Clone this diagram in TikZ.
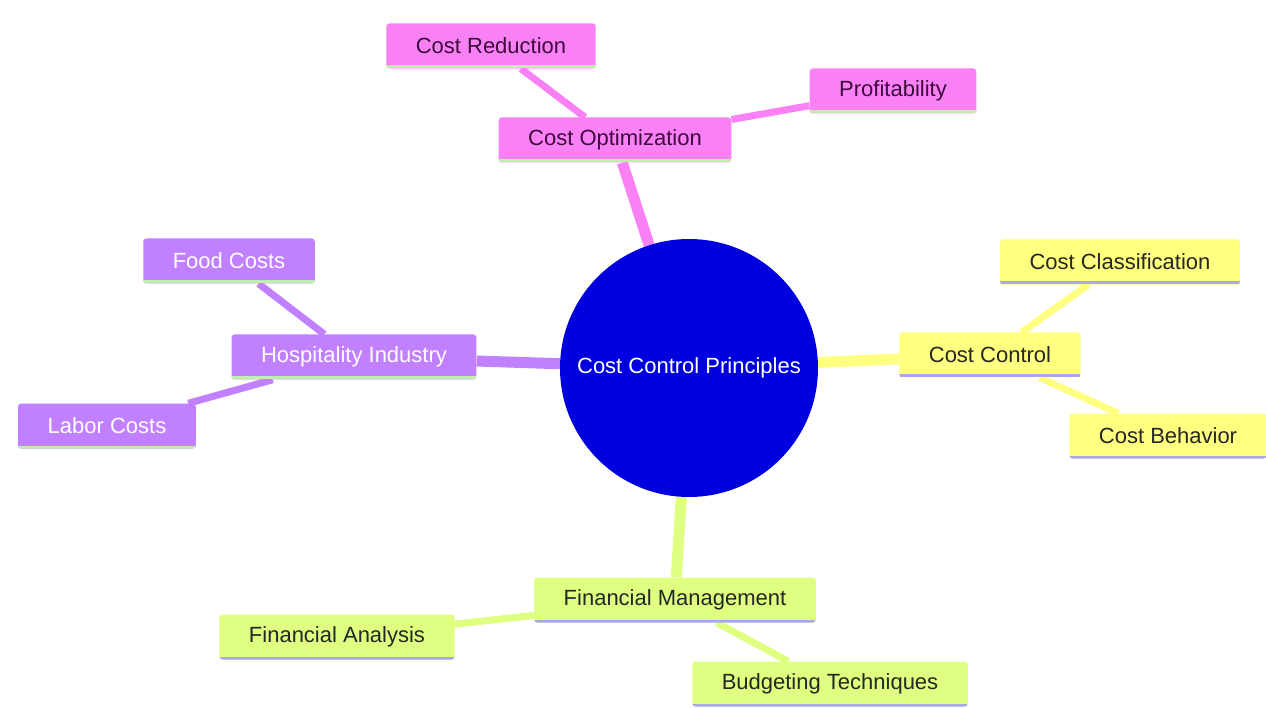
\documentclass[tikz,border=0pt]{standalone}
\usepackage{fontspec}
\setmainfont{Liberation Sans}
\usetikzlibrary{backgrounds}
\definecolor{rootblue}{RGB}{0,0,222}
\definecolor{optpink}{RGB}{250,128,245}
\definecolor{hospviolet}{RGB}{192,128,255}
\definecolor{ctrlyellow}{RGB}{255,255,128}
\definecolor{fingreen}{RGB}{222,255,128}
\definecolor{lightgreen}{RGB}{190,240,170}
\definecolor{lightviolet}{RGB}{170,168,232}
\definecolor{darkplum}{RGB}{60,10,60}
\tikzset{
  topic/.style={rectangle, rounded corners=3pt, minimum height=45pt, inner xsep=29.5pt,
                font=\fontsize{22}{26}\selectfont},
  underline/.style={path picture={\fill[#1, sharp corners]
                ([yshift=3pt]path picture bounding box.south west) rectangle
                (path picture bounding box.south east);}},
  pinkbox/.style={topic, fill=optpink, text=darkplum, underline=lightgreen},
  violetbox/.style={topic, fill=hospviolet, text=white, underline=lightgreen},
  yellowbox/.style={topic, fill=ctrlyellow, text=black!85, underline=lightviolet},
  greenbox/.style={topic, fill=fingreen, text=black!85, underline=lightviolet}
}
\begin{document}
\begin{tikzpicture}[x=1pt, y=-1pt]
\useasboundingbox (0,0) rectangle (1266,708);

\node[circle, fill=rootblue, text=white, minimum size=258pt, inner sep=0pt,
      font=\fontsize{22}{26}\selectfont] (root) at (689,368) {Cost Control Principles};

\begin{scope}[every node/.style={pinkbox}]
    \node (opt) at (615,140) {Cost Optimization};
    \node (red) at (491,46) {Cost Reduction};
    \node (prof) at (893,91) {Profitability};
\end{scope}

\begin{scope}[every node/.style={violetbox}]
    \node (hosp) at (354,357) {Hospitality Industry};
    \node (food) at (229,261) {Food Costs};
    \node (labor) at (107,426) {Labor Costs};
\end{scope}

\begin{scope}[every node/.style={yellowbox}]
    \node (ctrl) at (990,355) {Cost Control};
    \node (class) at (1120,262) {Cost Classification};
    \node (behav) at (1168,436) {Cost Behavior};
\end{scope}

\begin{scope}[every node/.style={greenbox}]
    \node (fin) at (675,600) {Financial Management};
    \node (anal) at (337,637) {Financial Analysis};
    \node (budg) at (830,684) {Budgeting Techniques};
\end{scope}

\begin{pgfonlayer}{background}
\begin{scope}[every edge/.style={draw, line width=7pt}]
    \path [-] (root) edge[optpink, line width=11pt] (opt);
    \path [-] (opt) edge[optpink] (red);
    \path [-] (opt) edge[optpink] (prof);
    \path [-] (root) edge[hospviolet, line width=11pt] (hosp);
    \path [-] (hosp) edge[hospviolet] (food);
    \path [-] (hosp) edge[hospviolet] (labor);
    \path [-] (root) edge[ctrlyellow, line width=11pt] (ctrl);
    \path [-] (ctrl) edge[ctrlyellow] (class);
    \path [-] (ctrl) edge[ctrlyellow] (behav);
    \path [-] (root) edge[fingreen, line width=11pt] (fin);
    \path [-] (fin) edge[fingreen] (anal);
    \path [-] (fin) edge[fingreen] (budg);
\end{scope}
\end{pgfonlayer}
\end{tikzpicture}
\end{document}
